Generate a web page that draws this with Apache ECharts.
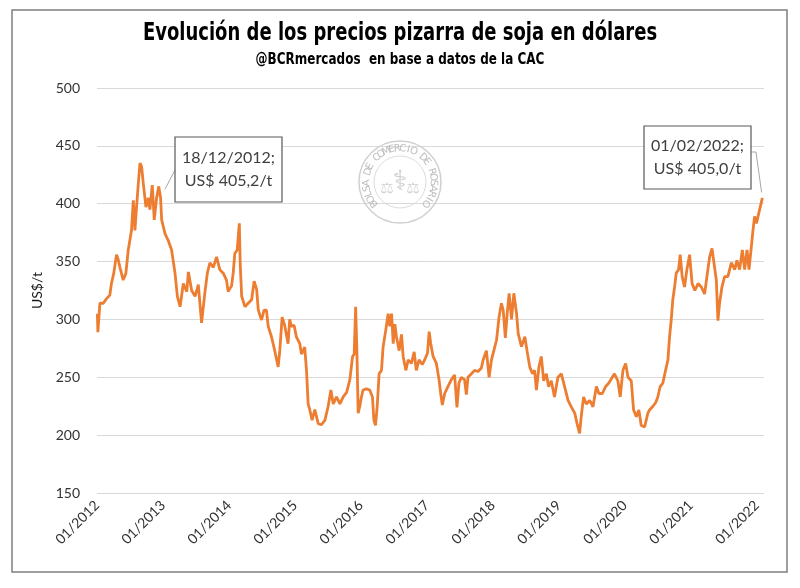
<!DOCTYPE html>
<html>
<head>
<meta charset="utf-8">
<script src="https://cdn.jsdelivr.net/npm/echarts@6/dist/echarts.min.js"></script>
<style>
html,body{margin:0;padding:0;background:#fff;}
#c{width:800px;height:588px;}
</style>
</head>
<body>
<div id="c"></div>
<script>
// ---- Data ----
var dates = [
'2012-01-03','2012-01-06','2012-01-17','2012-02-05','2012-02-23','2012-03-12','2012-03-21','2012-04-03','2012-04-18','2012-04-27',
'2012-05-07','2012-05-25','2012-06-09','2012-06-22','2012-07-10','2012-07-20','2012-07-29','2012-08-07','2012-08-18','2012-08-26',
'2012-09-04','2012-09-13','2012-09-28','2012-10-11','2012-10-20','2012-11-02','2012-11-13','2012-11-26','2012-12-08','2012-12-18',
'2012-12-24','2013-01-12','2013-01-30','2013-02-17','2013-03-08','2013-03-21','2013-04-05','2013-04-23','2013-05-12','2013-05-21',
'2013-06-08','2013-06-27','2013-07-15','2013-08-02','2013-08-21','2013-09-03','2013-09-17','2013-10-06','2013-10-24','2013-11-11',
'2013-11-30','2013-12-09','2013-12-18','2013-12-27','2014-01-06','2014-01-15','2014-01-24','2014-02-02','2014-02-15','2014-02-27',
'2014-03-04','2014-03-12','2014-03-30','2014-04-17','2014-05-06','2014-05-20','2014-06-03','2014-06-12','2014-06-30','2014-07-14',
'2014-07-27','2014-08-06','2014-08-24','2014-09-11','2014-09-30','2014-10-09','2014-10-22','2014-11-05','2014-11-24','2014-12-03',
'2014-12-12','2014-12-27','2015-01-09','2015-01-28','2015-02-06','2015-02-24','2015-03-06','2015-03-15','2015-03-24','2015-04-06',
'2015-04-21','2015-05-10','2015-05-28','2015-06-16','2015-07-04','2015-07-19','2015-08-01','2015-08-19','2015-09-07','2015-09-25',
'2015-10-14','2015-11-01','2015-11-16','2015-11-25','2015-12-03','2015-12-10','2015-12-17','2015-12-26','2016-01-04','2016-01-13',
'2016-02-01','2016-02-19','2016-03-05','2016-03-13','2016-03-22','2016-03-31','2016-04-11','2016-04-24','2016-05-03','2016-05-18',
'2016-05-31','2016-06-09','2016-06-19','2016-06-28','2016-07-07','2016-07-16','2016-07-31','2016-08-13','2016-08-22','2016-09-06',
'2016-09-19','2016-10-07','2016-10-22','2016-11-03','2016-11-18','2016-12-06','2016-12-19','2017-01-04','2017-01-13','2017-01-22',
'2017-02-04','2017-02-22','2017-03-09','2017-03-18','2017-03-27','2017-04-09','2017-04-27','2017-05-16','2017-06-03','2017-06-16',
'2017-06-27','2017-07-10','2017-07-28','2017-08-07','2017-08-16','2017-09-04','2017-09-22','2017-10-11','2017-10-29','2017-11-08',
'2017-11-17','2017-11-26','2017-12-11','2017-12-24','2018-01-11','2018-01-21','2018-02-04','2018-02-17','2018-02-27','2018-03-11',
'2018-03-21','2018-04-01','2018-04-14','2018-04-27','2018-05-12','2018-05-21','2018-06-08','2018-06-27','2018-07-09','2018-07-24',
'2018-08-08','2018-08-20','2018-08-30','2018-09-13','2018-09-26','2018-10-09','2018-10-24','2018-11-05','2018-11-20','2018-12-08',
'2018-12-27','2019-01-15','2019-02-02','2019-02-21','2019-03-11','2019-03-30','2019-04-12','2019-04-26','2019-05-05','2019-05-18',
'2019-06-02','2019-06-21','2019-07-09','2019-07-28','2019-08-11','2019-08-30','2019-09-17','2019-10-05','2019-10-24','2019-11-05',
'2019-11-24','2019-12-07','2019-12-22','2020-01-06','2020-01-19','2020-02-06','2020-02-19','2020-03-05','2020-03-19','2020-04-01',
'2020-04-20','2020-05-08','2020-05-17','2020-06-05','2020-06-20','2020-07-02','2020-07-15','2020-07-30','2020-08-14','2020-08-27',
'2020-09-05','2020-09-14','2020-09-23','2020-10-03','2020-10-12','2020-10-25','2020-11-03','2020-11-14','2020-11-27','2020-12-10',
'2020-12-25','2021-01-08','2021-01-23','2021-02-10','2021-02-28','2021-03-18','2021-03-31','2021-04-15','2021-04-28','2021-05-09',
'2021-05-22','2021-05-31','2021-06-09','2021-06-22','2021-07-07','2021-07-25','2021-08-13','2021-09-01','2021-09-13','2021-09-28',
'2021-10-13','2021-10-26','2021-11-08','2021-11-19','2021-12-02','2021-12-11','2021-12-20','2021-12-30','2022-01-10','2022-01-20',
'2022-02-01'
];
var prices = [
305,289,314,314,318,321,331,340,356,352,
345,334,340,360,377,403,377,397,420,435,
432,418,397,405,395,416,386,405,415,405.2,
386,374,368,360,340,320,311,331,324,341,
325,320,330,297,324,340,349,345,354,343,
340,337,334,324,324,329,340,357,360,383,
348,320,311,314,317,333,326,308,299.5,308,
308,294,285,273,259,273,302,295,279,300,
294,295,285,279,270,276,256,227,222,213,
222,210,209,213,225,239,227,233,227,233,
237,248,268,270,311,273,219,225,233,239,
240,239,233,213,208.5,224,253,256,276,291,
305,294,305,279,296,285,273,287,268,256,
265,262,272,256,265,261,265,271,289.5,279,
268,262,247.6,236,226,236,242,248,252,224,
245,250,248,235,250,253,256,255,258,265,
265,273,250,265,276,282,302,314,308,284,
305,322.6,300,322.6,305,288,276.5,285,273,259,
253,256,239,259,268,247,253,242,247,233,
250,253,242,230,224.5,219,210,201.6,216,233,
227,230,224.5,242,236,236,242,245,250,253,
247,233,256,262,250,247,221.7,216,221.7,208.5,
207,219,221.7,225,228,233,242,245,256,265,
285,299,317,328,340,343,356,337,328,343,
356,331,325,331,328,322,337,354,361.4,349,
334,299,314,328,337,337,349,343,351,343,
360,343,360,343,363,377,389,383,383,397,
405.0
];
var yearTicks = [2012,2013,2014,2015,2016,2017,2018,2019,2020,2021,2022];
var titleText = 'Evolución de los precios pizarra de soja en dólares';
var subtitleText = '@BCRmercados  en base a datos de la CAC';
var notes = [
  {date:'2012-12-18', value:405.2, lines:['18/12/2012;','US$ 405,2/t']},
  {date:'2022-02-01', value:405.0, lines:['01/02/2022;','US$ 405,0/t']}
];

function ts(s){ var p = s.split('-'); return new Date(+p[0], +p[1]-1, +p[2]).getTime(); }
var seriesData = dates.map(function(d,i){ return [ts(d), prices[i]]; });
var tickVals = yearTicks.map(function(y){ return new Date(y,0,1).getTime(); });

var chart = echarts.init(document.getElementById('c'), null, {renderer:'canvas'});
var labelFont = 'Lato, "Open Sans", "Noto Sans", sans-serif';
var titleFont = '"DejaVu Sans", sans-serif';

chart.setOption({
  animation:false,
  backgroundColor:'#fff',
  grid:{left:97, right:36, top:88, bottom:95, containLabel:false},
  xAxis:{
    type:'value',
    min:new Date(2012,0,1).getTime(),
    max:new Date(2022,1,10).getTime(),
    axisLine:{show:false},
    axisTick:{show:false},
    splitLine:{show:false},
    axisLabel:{
      customValues:tickVals,
      rotate:45, margin:10,
      fontFamily:labelFont, fontSize:14, color:'#333333',
      formatter:function(v){ return '01/' + new Date(v).getFullYear(); },
      hideOverlap:false, showMinLabel:true, showMaxLabel:true
    }
  },
  yAxis:{
    type:'value', min:150, max:500, interval:50,
    name:'US$/t', nameLocation:'middle', nameRotate:90, nameGap:52,
    nameTextStyle:{fontFamily:labelFont, fontSize:14, color:'#1a1a1a'},
    axisLine:{show:false}, axisTick:{show:false},
    splitLine:{lineStyle:{color:'#d9d9d9', width:1}},
    axisLabel:{fontFamily:labelFont, fontSize:14, color:'#333333', margin:17}
  },
  series:[{
    type:'line', data:seriesData, showSymbol:false, symbol:'none',
    lineStyle:{color:'#ED7D31', width:2.8}, itemStyle:{color:'#ED7D31'},
    z:3
  }]
});

// ---- decorations & annotations ----
var g = [];
// condensed bold title & subtitle
g.push({type:'text', x:400, y:33, scaleX:0.72, originX:0, z:8,
  style:{text:titleText, fontFamily:titleFont, fontWeight:'bold', fontSize:25, fill:'#000', align:'center', verticalAlign:'middle'}});
g.push({type:'text', x:400, y:60, scaleX:0.8, originX:0, z:8,
  style:{text:subtitleText, fontFamily:titleFont, fontWeight:'bold', fontSize:15, fill:'#000', align:'center', verticalAlign:'middle'}});
// frame
g.push({type:'rect', shape:{x:12, y:10, width:775, height:562},
  style:{fill:null, stroke:'#7f7f7f', lineWidth:1.5}, z:10, silent:true});

// watermark seal
var cx = 400, cy = 182;
g.push({type:'circle', shape:{cx:cx, cy:cy, r:41}, style:{fill:null, stroke:'#d0d0d0', lineWidth:1.5}, z:1});
g.push({type:'circle', shape:{cx:cx, cy:cy, r:26}, style:{fill:null, stroke:'#dcdcdc', lineWidth:1}, z:1});
var seal = 'BOLSA DE COMERCIO DE ROSARIO';
var a0 = -130, a1 = 130, step = (a1-a0)/(seal.length-1);
for (var i=0;i<seal.length;i++){
  var th = (a0 + i*step) * Math.PI/180;
  g.push({type:'text', x:cx + 33.5*Math.sin(th), y:cy - 33.5*Math.cos(th), rotation:-th, z:1,
    style:{text:seal[i], fontFamily:'"DejaVu Sans", sans-serif', fontSize:10, fill:'#bdbdbd', align:'center', verticalAlign:'middle'}});
}
g.push({type:'text', x:cx, y:cy+1, z:1, style:{text:'\u2695', fontFamily:'"DejaVu Sans", sans-serif', fontSize:28, fill:'#cfcfcf', align:'center', verticalAlign:'middle'}});
g.push({type:'text', x:cx-13, y:cy+7, z:1, style:{text:'\u2696', fontFamily:'"DejaVu Sans", sans-serif', fontSize:15, fill:'#d4d4d4', align:'center', verticalAlign:'middle'}});
g.push({type:'text', x:cx+13, y:cy+7, z:1, style:{text:'\u2696', fontFamily:'"DejaVu Sans", sans-serif', fontSize:15, fill:'#d4d4d4', align:'center', verticalAlign:'middle'}});

// annotation boxes with leader lines to the data points
var boxes = [
  {x:175, y:137, w:107, h:65, sx:175, sy:170, bend:null, f:0.3},
  {x:644, y:126, w:107, h:63, sx:751, sy:152, bend:[756,152], f:0.12}
];
notes.forEach(function(n, k){
  var b = boxes[k];
  var p = chart.convertToPixel({gridIndex:0}, [ts(n.date), n.value]);
  var pts = [[b.sx, b.sy]];
  var from = [b.sx, b.sy];
  if (b.bend){ pts.push(b.bend); from = b.bend; }
  pts.push([p[0] + (from[0]-p[0])*b.f, p[1] + (from[1]-p[1])*b.f]);
  g.push({type:'polyline', shape:{points:pts}, style:{stroke:'#a6a6a6', lineWidth:1, fill:null}, z:5});
  g.push({type:'rect', shape:{x:b.x, y:b.y, width:b.w, height:b.h},
    style:{fill:'#fff', stroke:'#595959', lineWidth:1.2}, z:6});
  g.push({type:'text', x:b.x + b.w/2, y:b.y + b.h/2, z:7,
    style:{text:n.lines.join('\n'), fontFamily:labelFont, fontSize:16, fill:'#404040',
      align:'center', verticalAlign:'middle', lineHeight:23}});
});
chart.setOption({graphic:{elements:g}});
</script>
</body>
</html>
